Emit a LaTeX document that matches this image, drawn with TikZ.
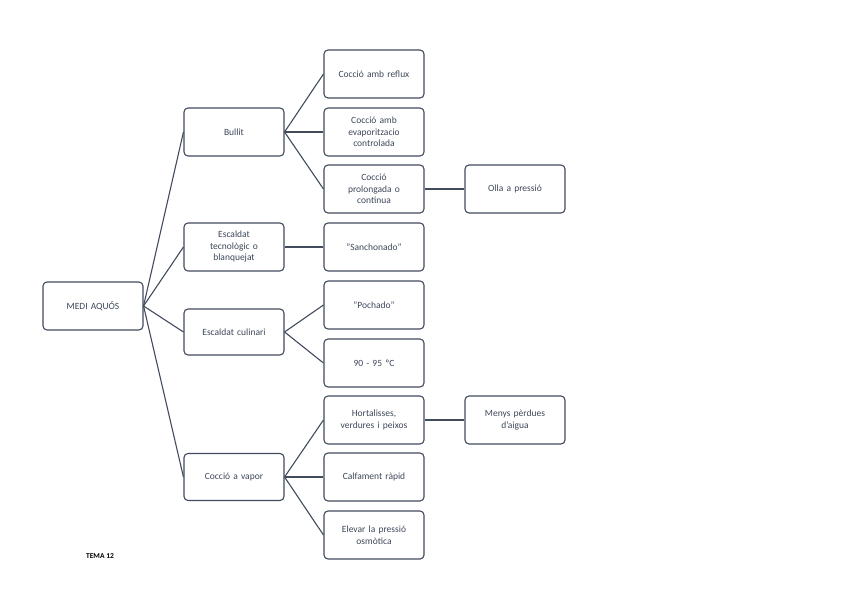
\documentclass[tikz,border=0pt]{standalone}
\usepackage{fontspec}
\setmainfont{Carlito}
\begin{document}
\begin{tikzpicture}[x=1pt,y=-1pt,
  bx/.style={draw=ln,line width=1.1pt,rounded corners=4pt,minimum width=100pt,minimum height=48pt,align=center,text width=92pt,font=\fontsize{9.5}{11.5}\selectfont,text=tx,inner sep=1pt},
  cn/.style={draw=ln,line width=1.1pt}]
\definecolor{ln}{HTML}{414B5D}
\definecolor{tx}{HTML}{3C4658}
\useasboundingbox (0,0) rectangle (848,599);
\node[bx] (m) at (93,306) {MEDI AQUÓS};
\node[bx] (b) at (234,132) {Bullit};
\node[bx] (e) at (234,247) {Escaldat\\tecnològic o\\blanquejat};
\node[bx,minimum height=46pt] (c) at (234,332) {Escaldat culinari};
\node[bx,minimum height=47pt] (v) at (234,477) {Cocció a vapor};
\node[bx] (b1) at (374,74) {Cocció amb reflux};
\node[bx] (b2) at (374,132) {Cocció amb\\evaporitzacio\\controlada};
\node[bx] (b3) at (374,189) {Cocció\\prolongada o\\continua};
\node[bx] (e1) at (374,247) {"Sanchonado"};
\node[bx] (c1) at (374,305) {"Pochado"};
\node[bx] (c2) at (374,363) {90 - 95 ºC};
\node[bx] (v1) at (374,420) {Hortalisses,\\verdures i peixos};
\node[bx] (v2) at (374,477) {Calfament ràpid};
\node[bx] (v3) at (374,535) {Elevar la pressió\\osmòtica};
\node[bx] (o) at (515,189) {Olla a pressió};
\node[bx] (p) at (515,420) {Menys pèrdues\\d'aigua};
\node[font=\fontsize{7.5}{9}\selectfont\bfseries,text=black] (t) at (100,556) {TEMA 12};
\foreach \a/\b in {m/b,m/e,m/c,m/v,b/b1,b/b2,b/b3,e/e1,c/c1,c/c2,v/v1,v/v2,v/v3,b3/o,v1/p}
  \draw[cn] (\a.east) -- (\b.west);
\end{tikzpicture}
\end{document}
